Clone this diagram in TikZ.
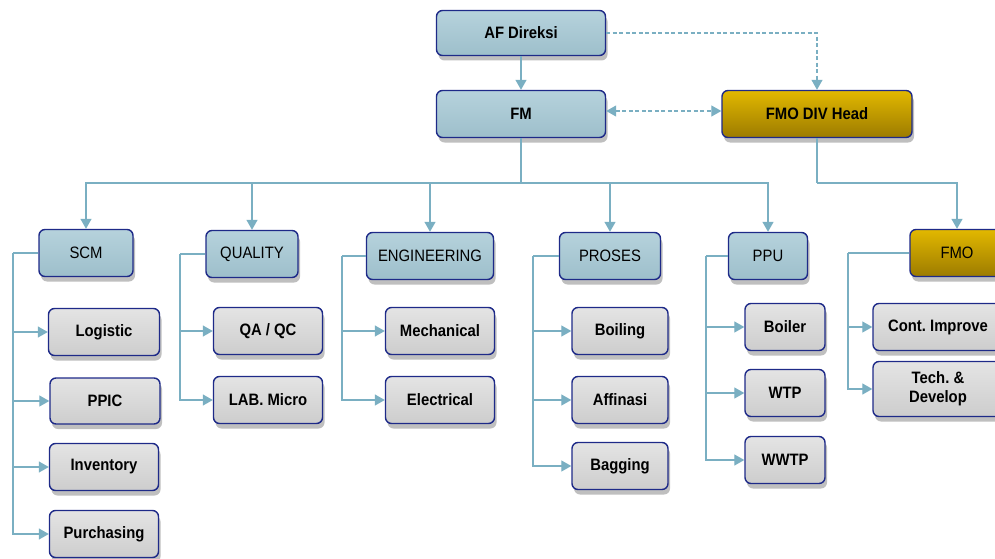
\documentclass[tikz,border=0pt]{standalone}
\usepackage{fontspec}
\setmainfont{Liberation Sans}[FakeStretch=0.9]
\usetikzlibrary{arrows.meta,shadows}
\frenchspacing
\definecolor{navy}{HTML}{1E2A88}
\definecolor{lnk}{HTML}{7AAFC2}
\definecolor{bluetop}{HTML}{B6D2DC}
\definecolor{bluebot}{HTML}{9DBFCB}
\definecolor{graytop}{HTML}{E4E4E4}
\definecolor{graybot}{HTML}{CDCDCD}
\definecolor{goldtop}{HTML}{E2B800}
\definecolor{goldbot}{HTML}{9C7B00}
\newcommand{\boxfont}{\fontsize{16.5}{19}\selectfont}
\begin{document}
\begin{tikzpicture}[x=1pt,y=-1pt,
  box/.style={draw=navy, line width=1.4pt, rounded corners=6pt, inner sep=0pt,
    font=\boxfont,
    drop shadow={shadow xshift=2pt, shadow yshift=-5pt, opacity=0.25, fill=black}},
  bluebox/.style={box, top color=bluetop, bottom color=bluebot},
  graybox/.style={box, top color=graytop, bottom color=graybot, font=\boxfont\bfseries},
  goldbox/.style={box, top color=goldtop, bottom color=goldbot},
  tip/.tip={Triangle[width=11pt,length=10pt]},
  conn/.style={draw=lnk, line width=1.3pt},
  arr/.style={conn, -tip},
  darr/.style={conn, dash pattern=on 4pt off 2.5pt, line width=1.1pt},
]
\useasboundingbox (0,0) rectangle (995,559);
\clip (0,0) rectangle (995,559);
% top level
\node[bluebox, minimum width=169pt, minimum height=45pt, font=\boxfont\bfseries] (afd) at (521,33) {AF Direksi};
\node[bluebox, minimum width=169pt, minimum height=47pt, font=\boxfont\bfseries] (fm) at (521,114) {FM};
\node[goldbox, minimum width=190pt, minimum height=47pt, font=\boxfont\bfseries] (fmoh) at (817,114) {FMO DIV Head};
% departments
\node[bluebox, minimum width=94pt, minimum height=47pt] (scm) at (86,253) {SCM};
\node[bluebox, minimum width=92pt, minimum height=47pt] (qual) at (252,254) {QUALITY};
\node[bluebox, minimum width=127pt, minimum height=47pt] (eng) at (430,256) {ENGINEERING};
\node[bluebox, minimum width=101pt, minimum height=47pt] (pros) at (610,256) {PROSES};
\node[bluebox, minimum width=79pt, minimum height=47pt] (ppu) at (768,256) {PPU};
\node[goldbox, minimum width=94pt, minimum height=47pt] (fmo) at (957,253) {FMO};
% SCM children
\node[graybox, minimum width=111pt, minimum height=47pt] (logi) at (104,332) {Logistic};
\node[graybox, minimum width=110pt, minimum height=46pt] (ppic) at (105,401) {PPIC};
\node[graybox, minimum width=109pt, minimum height=47pt] (inv) at (104,467) {Inventory};
\node[graybox, minimum width=109pt, minimum height=47pt] (purc) at (104,534) {Purchasing};
% QUALITY children
\node[graybox, minimum width=109pt, minimum height=47pt] (qaqc) at (268,331) {QA / QC};
\node[graybox, minimum width=109pt, minimum height=47pt] (lab) at (268,400) {LAB. Micro};
% ENGINEERING children
\node[graybox, minimum width=109pt, minimum height=47pt] (mech) at (440,331) {Mechanical};
\node[graybox, minimum width=109pt, minimum height=47pt] (elec) at (440,400) {Electrical};
% PROSES children
\node[graybox, minimum width=96pt, minimum height=47pt] (boil) at (620,331) {Boiling};
\node[graybox, minimum width=96pt, minimum height=47pt] (affi) at (620,400) {Affinasi};
\node[graybox, minimum width=96pt, minimum height=47pt] (bagg) at (620,466) {Bagging};
% PPU children
\node[graybox, minimum width=80pt, minimum height=47pt] (boiler) at (785,327) {Boiler};
\node[graybox, minimum width=80pt, minimum height=47pt] (wtp) at (785,393) {WTP};
\node[graybox, minimum width=80pt, minimum height=47pt] (wwtp) at (785,460) {WWTP};
% FMO children
\node[graybox, minimum width=130pt, minimum height=47pt] (cont) at (938,327) {Cont. Improve};
\node[graybox, minimum width=130pt, minimum height=55pt, align=center, font=\boxfont\bfseries] (tech) at (938,389) {Tech. \&\\Develop};
% connectors top
\draw[arr] (afd) -- (fm);
\draw[darr, -tip] (afd.east) -| (fmoh.north);
\draw[darr, tip-tip] ([yshift=3pt]fm.east) -- ([yshift=3pt]fmoh.west);
\coordinate (bus) at (521,183);
\draw[conn] (fm.south) -- (bus);
\draw[arr] (bus) -| (scm.north);
\draw[arr] (bus) -| (qual.north);
\draw[arr] (bus) -| (eng.north);
\draw[arr] (bus) -| (pros.north);
\draw[arr] (bus) -| (ppu.north);
\coordinate (fbus) at (817,183);
\draw[conn] (fmoh.south) -- (fbus);
\draw[arr] (fbus) -| (fmo.north);
% spines
\coordinate (s1) at (13,253);
\draw[conn] (scm.west) -- (s1);
\foreach \c in {logi,ppic,inv,purc} \draw[arr] (s1) |- (\c.west);
\coordinate (s2) at (180,254);
\draw[conn] (qual.west) -- (s2);
\foreach \c in {qaqc,lab} \draw[arr] (s2) |- (\c.west);
\coordinate (s3) at (342,256);
\draw[conn] (eng.west) -- (s3);
\foreach \c in {mech,elec} \draw[arr] (s3) |- (\c.west);
\coordinate (s4) at (533,256);
\draw[conn] (pros.west) -- (s4);
\foreach \c in {boil,affi,bagg} \draw[arr] (s4) |- (\c.west);
\coordinate (s5) at (706,256);
\draw[conn] (ppu.west) -- (s5);
\foreach \c in {boiler,wtp,wwtp} \draw[arr] (s5) |- (\c.west);
\coordinate (s6) at (848,253);
\draw[conn] (fmo.west) -- (s6);
\foreach \c in {cont,tech} \draw[arr] (s6) |- (\c.west);
\end{tikzpicture}
\end{document}
